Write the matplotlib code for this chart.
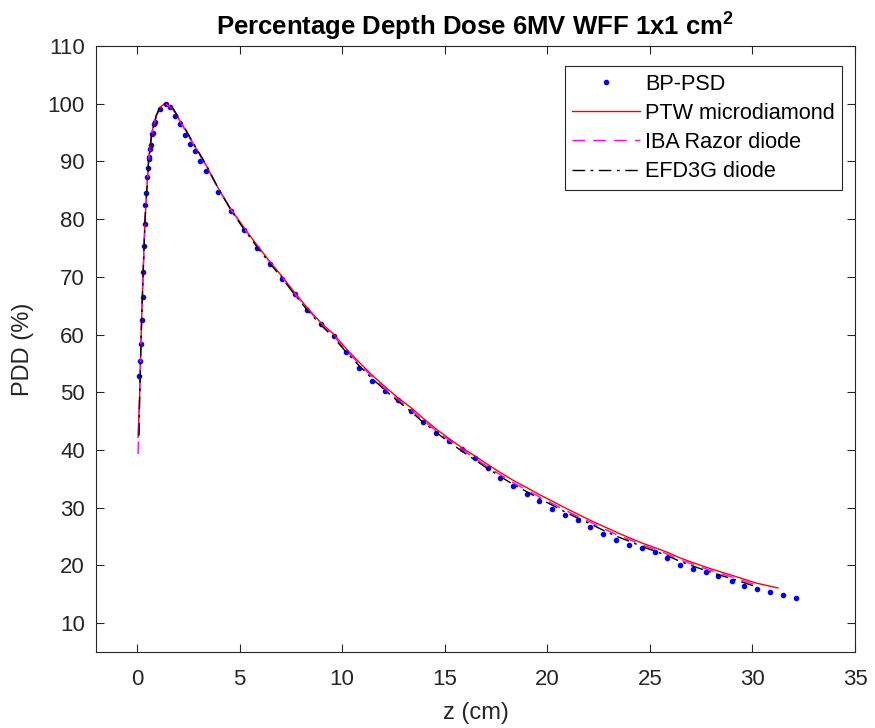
import matplotlib
matplotlib.use("Agg")
import matplotlib.pyplot as plt

plt.rcParams['font.family'] = ['Liberation Sans', 'DejaVu Sans']
plt.rcParams['mathtext.fontset'] = 'custom'
plt.rcParams['mathtext.bf'] = 'Liberation Sans:bold'
plt.rcParams['mathtext.rm'] = 'Liberation Sans'

# BP-PSD measured points
psd_z = [0.12, 0.13, 0.18, 0.23, 0.28, 0.31, 0.34, 0.38, 0.41, 0.44, 0.47, 0.52, 0.57, 0.60,
         0.65, 0.70, 0.73, 0.78, 0.81, 0.90, 1.14, 1.39, 1.63, 1.87, 2.11, 2.35, 2.60, 2.84,
         3.09, 3.34, 3.95, 4.57, 5.20, 5.83, 6.46, 7.09, 7.68, 8.31, 8.95, 9.58, 10.21, 10.83,
         11.45, 12.08, 12.70, 13.34, 13.95, 14.56, 15.20, 15.84, 16.46, 17.09, 17.71, 18.31,
         18.99, 19.60, 20.21, 20.85, 21.48, 22.10, 22.72, 23.34, 23.99, 24.60, 25.23, 25.84,
         26.47, 27.09, 27.73, 28.34, 28.99, 29.60, 30.23, 30.86, 31.48, 32.12]
psd_pdd = [52.8, 55.5, 58.4, 62.6, 66.5, 70.8, 75.4, 79.1, 82.4, 84.5, 87.3, 88.8, 90.5, 90.8,
           92.1, 92.8, 94.7, 95.0, 96.5, 96.8, 99.1, 99.9, 99.4, 97.9, 96.4, 94.5, 93.0, 91.8,
           90.0, 88.4, 84.7, 81.4, 78.1, 75.0, 72.3, 69.6, 67.0, 64.2, 61.8, 59.7, 57.0, 54.2,
           52.0, 50.3, 48.7, 46.8, 44.8, 43.0, 41.6, 40.2, 38.6, 36.9, 35.1, 33.7, 32.4, 31.2,
           29.8, 28.75, 27.9, 26.7, 25.5, 24.4, 23.5, 23.0, 22.3, 21.3, 20.1, 19.3, 18.8, 18.1,
           17.3, 16.5, 16.0, 15.4, 14.9, 14.4]

# PTW microdiamond
ptw_z = [0.05, 0.13, 0.20, 0.29, 0.39, 0.56, 0.72, 0.95, 1.15, 1.36, 1.55, 1.77, 2.17, 2.74,
         3.39, 3.95, 4.57, 5.20, 5.83, 6.46, 7.09, 7.68, 8.31, 8.95, 9.58, 10.21, 10.83, 11.45,
         12.08, 12.70, 13.34, 13.95, 14.56, 15.20, 15.84, 16.46, 17.09, 17.71, 18.31, 18.99,
         19.60, 20.21, 20.85, 21.48, 22.10, 22.72, 23.34, 23.99, 24.60, 25.23, 25.84, 26.47,
         27.09, 27.73, 28.34, 28.99, 29.60, 30.23, 30.86, 31.24]
ptw_pdd = [42.2, 50.0, 60.0, 70.0, 80.0, 90.0, 95.0, 98.0, 99.5, 100.0, 99.7, 99.0, 96.6, 93.1,
           89.2, 85.4, 81.8, 78.6, 75.6, 72.7, 70.0, 67.3, 64.6, 62.1, 60.1, 57.5, 55.2, 53.0,
           51.0, 49.1, 47.4, 45.5, 43.7, 42.0, 40.4, 39.0, 37.5, 36.1, 34.8, 33.5,
           32.3, 31.2, 30.0, 28.9, 27.8, 26.8, 25.8, 24.8, 23.9, 23.1, 22.3, 21.3,
           20.5, 19.7, 19.0, 18.3, 17.6, 16.9, 16.4, 16.1]

# IBA Razor diode
iba_z = [0.05, 0.08, 0.13, 0.20, 0.29, 0.39, 0.56, 0.72, 0.95, 1.15, 1.36, 1.55, 1.77, 2.17,
         2.74, 3.39, 3.95, 4.57, 5.20, 5.83, 6.46, 7.09, 7.68, 8.31, 8.95, 9.58, 10.21, 10.83,
         11.45, 12.08, 12.70, 13.34, 13.95, 14.56, 15.20, 15.84, 16.46, 17.09, 17.71, 18.31,
         18.99, 19.60, 20.21, 20.85, 21.48, 22.10, 22.72, 23.34, 23.99, 24.60, 25.23, 25.84,
         26.47, 27.09, 27.73, 28.34, 28.99, 29.60, 30.20]
iba_pdd = [39.3, 44.0, 50.0, 60.0, 70.0, 80.0, 90.0, 95.0, 98.0, 99.5, 100.0, 99.6, 98.9, 96.5,
           93.0, 89.1, 85.3, 81.7, 78.5, 75.5, 72.6, 69.9, 67.1, 64.4, 61.9, 59.8, 57.2, 54.9,
           52.7, 50.7, 48.8, 47.0, 45.1, 43.4, 41.7, 40.1, 38.6, 37.1, 35.7, 34.4,
           33.1, 31.9, 30.8, 29.6, 28.5, 27.5, 26.4, 25.4, 24.5, 23.6, 22.8, 22.0,
           21.0, 20.2, 19.4, 18.7, 18.0, 17.3, 16.6]

# EFD3G diode
efd_z = [0.10, 0.13, 0.20, 0.29, 0.39, 0.56, 0.72, 0.95, 1.15, 1.36, 1.55, 1.77, 2.17, 2.74,
         3.39, 3.95, 4.57, 5.20, 5.83, 6.46, 7.09, 7.68, 8.31, 8.95, 9.58, 10.21, 10.83, 11.45,
         12.08, 12.70, 13.34, 13.95, 14.56, 15.20, 15.84, 16.46, 17.09, 17.71, 18.31, 18.99,
         19.60, 20.21, 20.85, 21.48, 22.10, 22.72, 23.34, 23.99, 24.60, 25.23, 25.84, 26.47,
         27.09, 27.73, 28.34, 28.99, 29.60, 30.20]
efd_pdd = [42.5, 49.0, 59.5, 69.8, 79.8, 89.8, 95.0, 98.1, 99.6, 100.0, 99.8, 99.1, 96.8, 93.2,
           89.3, 85.4, 81.6, 78.3, 75.3, 72.4, 69.7, 66.9, 64.2, 61.7, 59.5, 56.9, 54.6, 52.4,
           50.4, 48.5, 46.7, 44.8, 43.1, 41.4, 39.8, 38.3, 36.8, 35.4, 34.1,
           32.8, 31.6, 30.5, 29.3, 28.2, 27.2, 26.1, 25.1, 24.2, 23.3, 22.5, 21.7,
           20.7, 19.9, 19.1, 18.4, 17.7, 17.0, 16.3]

xticks = [0, 5, 10, 15, 20, 25, 30, 35]
yticks = [10, 20, 30, 40, 50, 60, 70, 80, 90, 100, 110]

fig = plt.figure(figsize=(8.75, 7.28), dpi=100)
ax = fig.add_axes([96/875, 1-652/728, (855-96)/875, (652-46)/728])

ax.plot(psd_z, psd_pdd, '.', color='blue', markersize=6, label='BP-PSD')
ax.plot(ptw_z, ptw_pdd, '-', color='red', linewidth=1.0, label='PTW microdiamond')
ax.plot(iba_z, iba_pdd, '--', color='magenta', linewidth=1.0, dashes=(9, 6), label='IBA Razor diode')
ax.plot(efd_z, efd_pdd, '-.', color='black', linewidth=1.0, dashes=(9, 4, 2, 4), label='EFD3G diode')

ax.set_xlim(-2, 35)
ax.set_ylim(5, 110)
ax.set_xticks(xticks)
ax.set_yticks(yticks)

axcol = (0.15, 0.15, 0.15)
ax.tick_params(direction='in', top=True, right=True, length=6, width=0.8,
               labelsize=16, colors=axcol, pad=8)
ax.tick_params(axis='x', pad=12)
for s in ax.spines.values():
    s.set_color(axcol)
    s.set_linewidth(0.8)

ax.set_xlabel('z (cm)', fontsize=17, color=axcol, labelpad=9)
ax.set_ylabel('PDD (%)', fontsize=17, color=axcol, labelpad=10)
ax.set_title('Percentage Depth Dose 6MV WFF 1x1 cm$^\\mathbf{2}$', fontsize=18.5,
             fontweight='bold', pad=8)

leg = ax.legend(loc='upper right', fontsize=15.6, frameon=True, fancybox=False,
                edgecolor=axcol, framealpha=1, handlelength=3.15, handletextpad=0.2,
                borderpad=0.35, labelspacing=0.38, borderaxespad=0,
                bbox_to_anchor=(0.983, 0.967))
leg.get_frame().set_linewidth(0.8)

fig.savefig('out.png', dpi=100)
